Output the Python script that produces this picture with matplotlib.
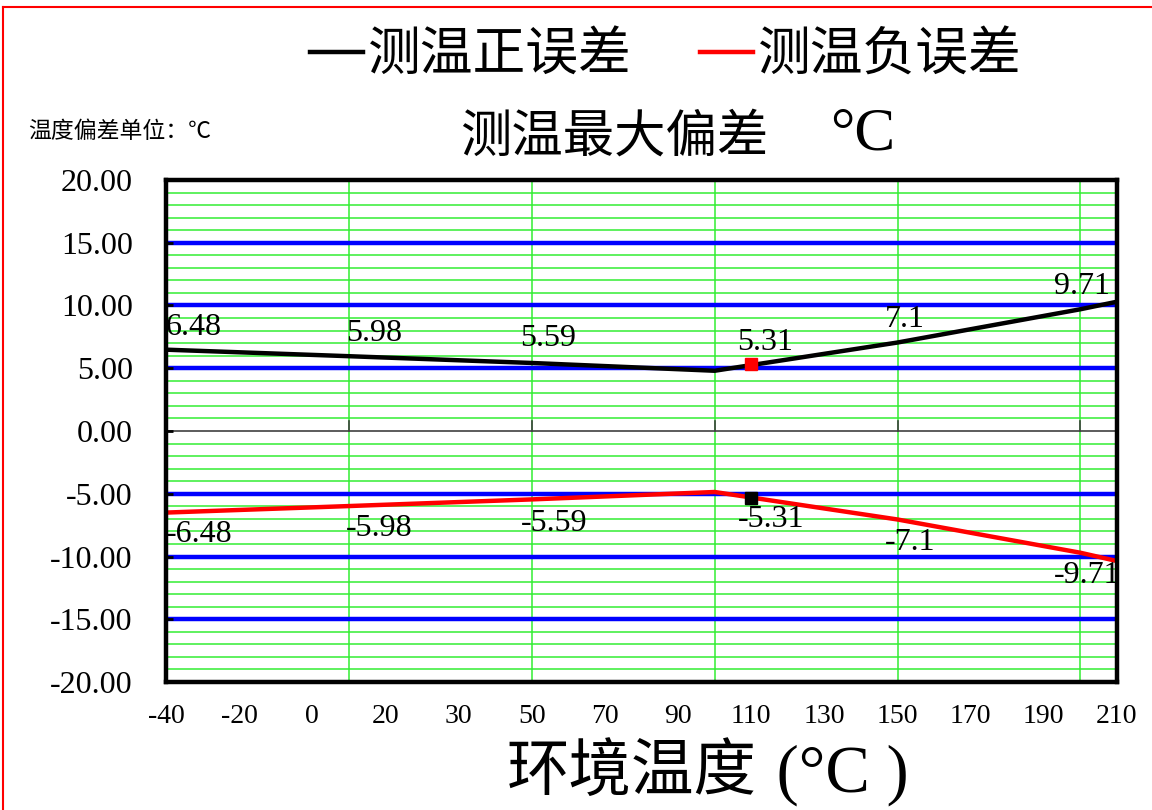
import matplotlib
matplotlib.use("Agg")
import matplotlib.pyplot as plt
from matplotlib.lines import Line2D

plt.rcParams["font.family"] = ["Liberation Serif", "Noto Sans CJK SC"]
plt.rcParams["axes.unicode_minus"] = False
cjk = ["Noto Sans CJK SC", "DejaVu Sans"]

# x axis categories (ambient temperature)
temps = ["-40", "-20", "0", "20", "30", "50", "70", "90", "110", "130", "150", "170", "190", "210"]

# traced error curves, x given on the category scale
line_x = [0, 2.5, 5, 7.5, 10, 12.5, 13]
pos_line = [6.48, 5.96, 5.42, 4.80, 7.05, 9.70, 10.30]
neg_line = [-6.50, -5.98, -5.45, -4.86, -7.05, -9.70, -10.36]

# labelled values
label_x = [0, 2.5, 5, 8, 10, 12.5]
pos_vals = [6.48, 5.98, 5.59, 5.31, 7.1, 9.71]
neg_vals = [-6.48, -5.98, -5.59, -5.31, -7.1, -9.71]
label_dx = [20, 18, 12, 10, 5, 1]   # points, sideways shift of the value labels

# highlighted point
mark_x = 8
mark_pos = 5.31
mark_neg = -5.31

fig = plt.figure(figsize=(11.52, 8.1), dpi=100)
ax = fig.add_axes([0.1441, 0.158, 0.8255, 0.6198])
ax.set_xlim(0, 13)
ax.set_ylim(-20, 20)

# horizontal grid: green every 1, blue every 5, grey zero line
for v in range(-19, 20):
    if v == 0:
        ax.axhline(v, color="#404040", lw=1.2, zorder=1)
    elif v % 5 == 0:
        ax.axhline(v, color="#0000ff", lw=3.2, zorder=1)
    else:
        ax.axhline(v, color="#33ee33", lw=1.1, zorder=0.5)
for xv in [2.5, 5, 7.5, 10, 12.5]:
    ax.axvline(xv, color="#33ee33", lw=1.1, zorder=0.5)
    ax.plot([xv, xv], [0, 0.8], color="#404040", lw=1.2, zorder=1)

ax.plot(line_x, pos_line, color="black", lw=3.2, zorder=3, solid_joinstyle="round")
ax.plot(line_x, neg_line, color="#ff0000", lw=3.2, zorder=3, solid_joinstyle="round")
ax.plot([mark_x], [mark_pos], "s", color="#ff0000", ms=9, zorder=4)
ax.plot([mark_x], [mark_neg], "s", color="black", ms=9, zorder=4)

for x, v, dx in zip(label_x, pos_vals, label_dx):
    ax.annotate(f"{v:g}", (x, v), xytext=(dx, 16), textcoords="offset points",
                ha="center", va="center", fontsize=23, zorder=5)
for x, v, dx in zip(label_x, neg_vals, label_dx):
    ax.annotate(f"{v:g}", (x, v), xytext=(dx + 4, -16), textcoords="offset points",
                ha="center", va="center", fontsize=23, zorder=5)

ax.set_xticks(range(len(temps)))
ax.set_xticklabels(temps, fontsize=20)
ax.tick_params(axis="x", length=0, pad=16)
ax.set_yticks(range(-20, 21, 5))
ax.set_yticklabels([f"{v:.2f}" for v in range(-20, 21, 5)], fontsize=23)
ax.tick_params(axis="y", direction="in", length=5, width=2, pad=24)

for side in ["left", "right", "top", "bottom"]:
    ax.spines[side].set_linewidth(3.2)
    ax.spines[side].set_color("black")
    ax.spines[side].set_zorder(6)

handles = [Line2D([], [], color="black", lw=3.2), Line2D([], [], color="#ff0000", lw=3.2)]
fig.legend(handles, ["测温正误差", "测温负误差"], loc="center", bbox_to_anchor=(0.578, 0.932),
           ncol=2, frameon=False, handlelength=1.0, handletextpad=0.1, columnspacing=1.3,
           prop={"family": cjk, "size": 38, "weight": "light"})

# title: chinese part plus a thin serif degree sign
fig.text(614 / 1152, 1 - 137 / 810, "测温最大偏差", ha="center", va="center",
         fontsize=37, weight="medium", family=cjk)
fig.text(830 / 1152, 1 - 135 / 810, "°C", ha="left", va="center",
         fontsize=44, family="Liberation Serif")
fig.text(28 / 1152, 1 - 132 / 810, "温度偏差单位：℃", ha="left", va="center",
         fontsize=16.5, family=cjk)

# x axis title
fig.text(757 / 1152, 1 - 772 / 810, "环境温度", ha="right", va="center",
         fontsize=45, weight="light", family=cjk)
fig.text(760 / 1152, 1 - 775 / 810, " (°C )", ha="left", va="center",
         fontsize=48, family="Liberation Serif")

# red frame on the left and top edge
fig.add_artist(Line2D([0.003, 0.003], [0, 0.991], color="#ff0000", lw=1.5, transform=fig.transFigure))
fig.add_artist(Line2D([0.003, 1], [0.991, 0.991], color="#ff0000", lw=1.5, transform=fig.transFigure))

fig.savefig("out.png", dpi=100)
